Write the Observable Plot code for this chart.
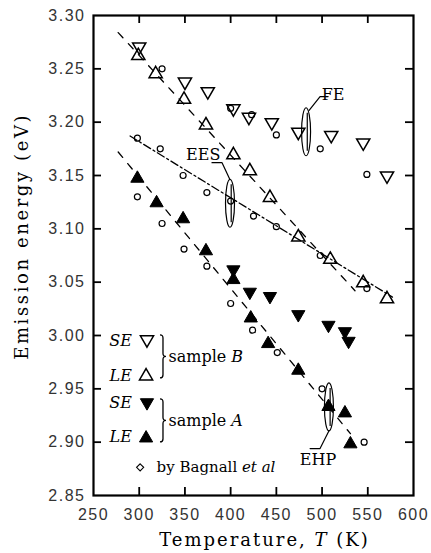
<!DOCTYPE html>
<html><head><meta charset="utf-8">
<script src="https://cdn.jsdelivr.net/npm/d3@7"></script>
<script src="https://cdn.jsdelivr.net/npm/@observablehq/plot@0.6"></script>
<style>body{margin:0;background:#fff;}</style>
</head><body><div id="chart"></div>
<script>
// ---- data (temperature K, emission energy eV) ----
const xTicks = [250, 300, 350, 400, 450, 500, 550, 600];
const yTicks = [2.85, 2.90, 2.95, 3.00, 3.05, 3.10, 3.15, 3.20, 3.25, 3.30];

const sampleB_SE = [[300,3.270],[350,3.237],[375,3.228],[403,3.212],[420,3.204],[445,3.199],[474,3.190],[510,3.187],[545,3.180],[571,3.149]];
const sampleB_LE = [[299,3.263],[318,3.246],[349,3.222],[373,3.198],[403,3.170],[421,3.155],[443,3.130],[474,3.093],[509,3.072],[545,3.050],[571,3.035]];
const sampleA_SE = [[403,3.061],[421,3.040],[443,3.036],[474,3.019],[507,3.009],[525,3.003],[529,2.994]];
const sampleA_LE = [[298,3.148],[319,3.125],[348,3.110],[373,3.080],[403,3.053],[422,3.017],[441,2.993],[474,2.968],[507,2.934],[525,2.928],[531,2.899]];
const bagnallFE  = [[325,3.250],[400,3.213],[423,3.207],[450,3.188],[498,3.175],[549,3.151]];
const bagnallEES = [[298,3.185],[323,3.175],[348,3.150],[374,3.134],[400,3.126],[425,3.112],[450,3.102],[498,3.075],[549,3.044]];
const bagnallEHP = [[298,3.130],[325,3.105],[349,3.081],[374,3.065],[400,3.030],[424,3.005],[451,2.984],[500,2.950],[546,2.900]];

const fitB   = [[277,3.284],[536,3.042]];
const fitEES = [[290,3.187],[577,3.036]];
const fitA   = [[277,3.172],[531,2.908]];

// annotations (data units)
const ellipses = [[482.5,3.191],[399.3,3.124],[507.5,2.933]];
const leaderFE  = [[506.6,3.224],[497.8,3.224],[485.8,3.211]];
const leaderEES = [[379.6,3.162],[390.6,3.162],[399.3,3.146]];
const leaderEHP = [[486.9,2.894],[497.8,2.894],[507.7,2.911]];
const annLabels = [
  {T:512, E:3.226, s:"FE", a:"start"},
  {T:370, E:3.169, s:"EES", a:"end"},
  {T:495.6, E:2.883, s:"EHP", a:"middle"}
];
// legend
const legendKeys = [
  {T:292, E:2.9954, s:"SE"}, {T:292, E:2.9626, s:"LE"},
  {T:292, E:2.9364, s:"SE"}, {T:292, E:2.9045, s:"LE"}
];
const legendGroups = [
  {T:326, E:2.9804, labT:332, s:"sample B"},
  {T:326, E:2.9204, labT:332, s:"sample A"}
];
const legendBSE = [[308.5,2.9954]], legendBLE = [[307.5,2.9626]];
const legendASE = [[308.5,2.9364]], legendALE = [[307.5,2.9045]];
const legendBag = [[301,2.8764]];
const legendBagText = [{T:319, E:2.8764, s:"by Bagnall et al"}];
// axis titles (anchor points in data units)
const xTitle = [{T:437, E:2.8085, s:"Temperature, T (K)"}];
const yTitle = [{T:172.5, E:3.093, s:"Emission energy (eV)"}];

// ---- symbols ----
const triUp = {draw(c){ c.moveTo(0,-6.8); c.lineTo(6.6,4.6); c.lineTo(-6.6,4.6); c.closePath(); }};
const triDown = {draw(c){ c.moveTo(0,6.8); c.lineTo(6.6,-4.6); c.lineTo(-6.6,-4.6); c.closePath(); }};
const ellipseSym = {draw(c){ const rx=4.5, ry=24, k=0.5523;
  c.moveTo(0,-ry);
  c.bezierCurveTo(rx*k,-ry, rx,-ry*k, rx,0);
  c.bezierCurveTo(rx,ry*k, rx*k,ry, 0,ry);
  c.bezierCurveTo(-rx*k,ry, -rx,ry*k, -rx,0);
  c.bezierCurveTo(-rx,-ry*k, -rx*k,-ry, 0,-ry);
  c.closePath();
  c.moveTo(1.2,-19); c.lineTo(1.2,19);
}};
const braceSym = {draw(c){ const h=21.5;
  c.moveTo(-3,-h); c.quadraticCurveTo(0,-h,0,-h+3); c.lineTo(0,-3);
  c.quadraticCurveTo(0,0,3,0); c.quadraticCurveTo(0,0,0,3);
  c.lineTo(0,h-3); c.quadraticCurveTo(0,h,-3,h);
}};

const W = 431, H = 553, mL = 93, mR = 18, mT = 15, mB = 58;
const kx = (600-250)/(W-mL-mR), ky = (3.30-2.85)/(H-mT-mB);
const tl = 8;
const X = d => d[0], Y = d => d[1];
const serif = "'DejaVu Serif', serif";

const chart = Plot.plot({
  width: W, height: H, marginLeft: mL, marginRight: mR, marginTop: mT, marginBottom: mB,
  x: {domain: [250, 600]},
  y: {domain: [2.85, 3.30]},
  style: {fontFamily: serif, background: "#fff", color: "#000", overflow: "visible"},
  marks: [
    Plot.axisX({ticks: xTicks, tickSize: 0, tickPadding: 13, tickFormat: d3.format("d"), fontSize: 16, label: null}),
    Plot.axisY({ticks: yTicks, tickSize: 0, tickPadding: 8, tickFormat: d3.format(".2f"), fontSize: 16, label: null}),
    // inward ticks
    Plot.ruleX(xTicks.slice(1,-1), {x: d=>d, y1: 2.85, y2: 2.85 + tl*ky, strokeWidth: 1.8}),
    Plot.ruleX(xTicks.slice(1,-1), {x: d=>d, y1: 3.30, y2: 3.30 - tl*ky, strokeWidth: 1.8}),
    Plot.ruleY(yTicks.slice(1,-1), {y: d=>d, x1: 250, x2: 250 + tl*kx, strokeWidth: 1.8}),
    Plot.ruleY(yTicks.slice(1,-1), {y: d=>d, x1: 600, x2: 600 - tl*kx, strokeWidth: 1.8}),
    Plot.frame({strokeWidth: 2.2}),
    // fit lines
    Plot.line(fitB, {x: X, y: Y, stroke: "#000", strokeWidth: 1.3, strokeDasharray: "7,8"}),
    Plot.line(fitA, {x: X, y: Y, stroke: "#000", strokeWidth: 1.3, strokeDasharray: "7,8"}),
    Plot.line(fitEES, {x: X, y: Y, stroke: "#000", strokeWidth: 1.3, strokeDasharray: "8,3,2,3"}),
    // data
    Plot.dot(bagnallFE,  {x: X, y: Y, r: 3, stroke: "#000", fill: "none", strokeWidth: 1.2}),
    Plot.dot(bagnallEES, {x: X, y: Y, r: 3, stroke: "#000", fill: "none", strokeWidth: 1.2}),
    Plot.dot(bagnallEHP, {x: X, y: Y, r: 3, stroke: "#000", fill: "none", strokeWidth: 1.2}),
    Plot.dot(sampleB_SE, {x: X, y: Y, symbol: triDown, stroke: "#000", fill: "none", strokeWidth: 1.5}),
    Plot.dot(sampleB_LE, {x: X, y: Y, symbol: triUp, stroke: "#000", fill: "none", strokeWidth: 1.5}),
    Plot.dot(sampleA_SE, {x: X, y: Y, symbol: triDown, stroke: "#000", fill: "#000", strokeWidth: 1}),
    Plot.dot(sampleA_LE, {x: X, y: Y, symbol: triUp, stroke: "#000", fill: "#000", strokeWidth: 1}),
    // annotations
    Plot.dot(ellipses, {x: X, y: Y, symbol: ellipseSym, stroke: "#000", fill: "none", strokeWidth: 1.2}),
    Plot.line(leaderFE,  {x: X, y: Y, stroke: "#000", strokeWidth: 1.2}),
    Plot.line(leaderEES, {x: X, y: Y, stroke: "#000", strokeWidth: 1.2}),
    Plot.line(leaderEHP, {x: X, y: Y, stroke: "#000", strokeWidth: 1.2}),
    Plot.text(annLabels, {x: "T", y: "E", text: "s", textAnchor: d => d.a, fontSize: 16}),
    // legend
    Plot.text(legendKeys, {x: "T", y: "E", text: "s", textAnchor: "end", fontSize: 16, fontStyle: "italic"}),
    Plot.dot(legendBSE, {x: X, y: Y, symbol: triDown, stroke: "#000", fill: "none", strokeWidth: 1.5}),
    Plot.dot(legendBLE, {x: X, y: Y, symbol: triUp, stroke: "#000", fill: "none", strokeWidth: 1.5}),
    Plot.dot(legendASE, {x: X, y: Y, symbol: triDown, stroke: "#000", fill: "#000", strokeWidth: 1}),
    Plot.dot(legendALE, {x: X, y: Y, symbol: triUp, stroke: "#000", fill: "#000", strokeWidth: 1}),
    Plot.dot(legendGroups, {x: "T", y: "E", symbol: braceSym, stroke: "#000", fill: "none", strokeWidth: 1.3}),
    Plot.text(legendGroups, {x: "labT", y: "E", text: "s", textAnchor: "start", fontSize: 16}),
    Plot.dot(legendBag, {x: X, y: Y, r: 3.2, symbol: "diamond2", stroke: "#000", fill: "none", strokeWidth: 1.1}),
    Plot.text(legendBagText, {x: "T", y: "E", text: "s", textAnchor: "start", fontSize: 15}),
    // axis titles
    Plot.text(xTitle, {x: "T", y: "E", text: "s", textAnchor: "middle", fontSize: 18}),
    Plot.text(yTitle, {x: "T", y: "E", text: "s", textAnchor: "middle", rotate: -90, fontSize: 18})
  ]
});

const svg = d3.select(chart);
svg.selectAll('g[aria-label="x-axis tick label"] text, g[aria-label="y-axis tick label"] text')
  .attr("font-family", "'Liberation Sans', Arial, sans-serif")
  .attr("letter-spacing", "1.5px")
  .attr("fill", "#333");
svg.selectAll('g[aria-label="x-axis tick label"], g[aria-label="y-axis tick label"]')
  .attr("font-family", "'Liberation Sans', Arial, sans-serif");
svg.selectAll("text").each(function() {
  const t = this.textContent, s = d3.select(this);
  if (t === "Temperature, T (K)") { s.html('Temperature, <tspan font-style="italic">T</tspan> (K)').attr("letter-spacing", "2px"); }
  else if (t === "Emission energy (eV)") { s.attr("letter-spacing", "2.6px"); }
  else if (t === "sample B") { s.html('sample <tspan font-style="italic">B</tspan>'); }
  else if (t === "sample A") { s.html('sample <tspan font-style="italic">A</tspan>'); }
  else if (t === "by Bagnall et al") { s.html('by Bagnall <tspan font-style="italic">et al</tspan>'); }
});
document.getElementById("chart").appendChild(chart);
</script>
</body></html>
